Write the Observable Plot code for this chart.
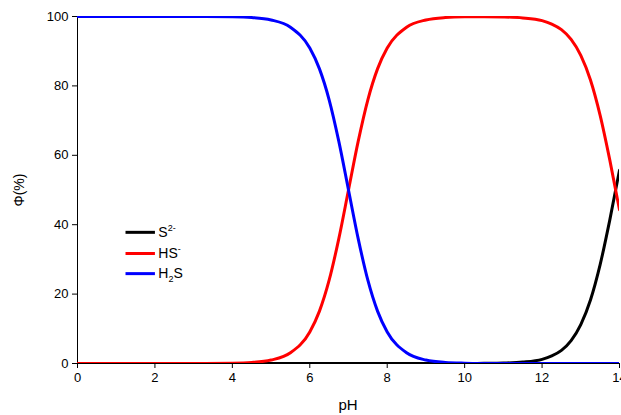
<!DOCTYPE html>
<html><head>
<script src="https://cdn.jsdelivr.net/npm/d3@7"></script>
<script src="https://cdn.jsdelivr.net/npm/@observablehq/plot@0.6"></script>
<style>body{margin:0;background:#fff;font-family:"Liberation Sans",Arial,sans-serif}</style>
</head><body><div id="c"></div>
<script>
const pH   = [0,1,2,3,4,4.5,5,5.5,6,6.25,6.5,6.75,7,7.25,7.5,7.75,8,8.5,9,9.5,10,10.5,11,11.5,12,12.25,12.5,12.75,13,13.25,13.5,13.75,14];
const H2S  = [100,100,100,99.99,99.9,99.7,99,96.9,90.9,84.9,76,64,50,36,24,15.1,9.1,3.1,1,0.3,0.1,0.03,0.01,0,0,0,0,0,0,0,0,0,0];
const S2   = [0,0,0,0,0,0,0,0,0,0,0,0,0,0,0,0,0,0,0,0,0,0.04,0.13,0.4,1.2,2.2,3.8,6.6,11.2,18.3,28.5,41.4,55.7];
const HS   = pH.map((p,i)=>100-H2S[i]-S2[i]);
const series = [["S2-",S2,"#000"],["HS-",HS,"#ff0000"],["H2S",H2S,"#0000ff"]];
const rows = series.flatMap(([n,v])=>pH.map((p,i)=>({pH:p,v:v[i],s:n})));
const legend = [{s:"S2-",y:37.8,label:["S","2-"]},{s:"HS-",y:31.7,label:["HS","-"]},{s:"H2S",y:25.9,label:["H","2","S"]}];
const xTicks=[0,2,4,6,8,10,12,14], yTicks=[0,20,40,60,80,100];
const chart = Plot.plot({
  width:621,height:415,marginLeft:77,marginRight:2,marginTop:16,marginBottom:52,
  style:{fontSize:"13px",fontFamily:"Liberation Sans, Arial, sans-serif",color:"#000"},
  x:{domain:[0,14],ticks:xTicks,label:null,tickSize:5},
  y:{domain:[0,100],ticks:yTicks,label:null,tickSize:5},
  color:{domain:series.map(d=>d[0]),range:series.map(d=>d[2])},
  marks:[
    Plot.ruleX([0],{stroke:"#000",strokeWidth:1}),
    Plot.ruleY([0],{stroke:"#000",strokeWidth:1}),
    Plot.line(rows,{x:"pH",y:"v",z:"s",stroke:"s",strokeWidth:3,curve:"monotone-x",clip:true}),
    Plot.link(legend,{x1:()=>1.24,x2:()=>2.0,y1:"y",y2:"y",stroke:"s",strokeWidth:3})
  ]
});
const svg=d3.select(chart);
const sx=chart.scale("x"), sy=chart.scale("y");
legend.forEach(d=>{
  const t=svg.append("text").attr("text-anchor","start").attr("x",sx.apply(2.1)).attr("y",sy.apply(d.y)+5).attr("font-size",14);
  if(d.label.length===2){t.append("tspan").text(d.label[0]);t.append("tspan").attr("dy",-6).attr("font-size",9).text(d.label[1]);}
  else{t.append("tspan").text(d.label[0]);t.append("tspan").attr("dy",4).attr("font-size",9).text(d.label[1]);t.append("tspan").attr("dy",-4).text(d.label[2]);}
});
svg.append("text").attr("x",(77+619)/2).attr("y",410).attr("text-anchor","middle").attr("font-size",15).text("pH");
svg.append("text").attr("transform","translate(24,190) rotate(-90)").attr("text-anchor","middle").attr("font-size",14).text("Φ(%)");
document.getElementById("c").appendChild(chart);
</script></body></html>
